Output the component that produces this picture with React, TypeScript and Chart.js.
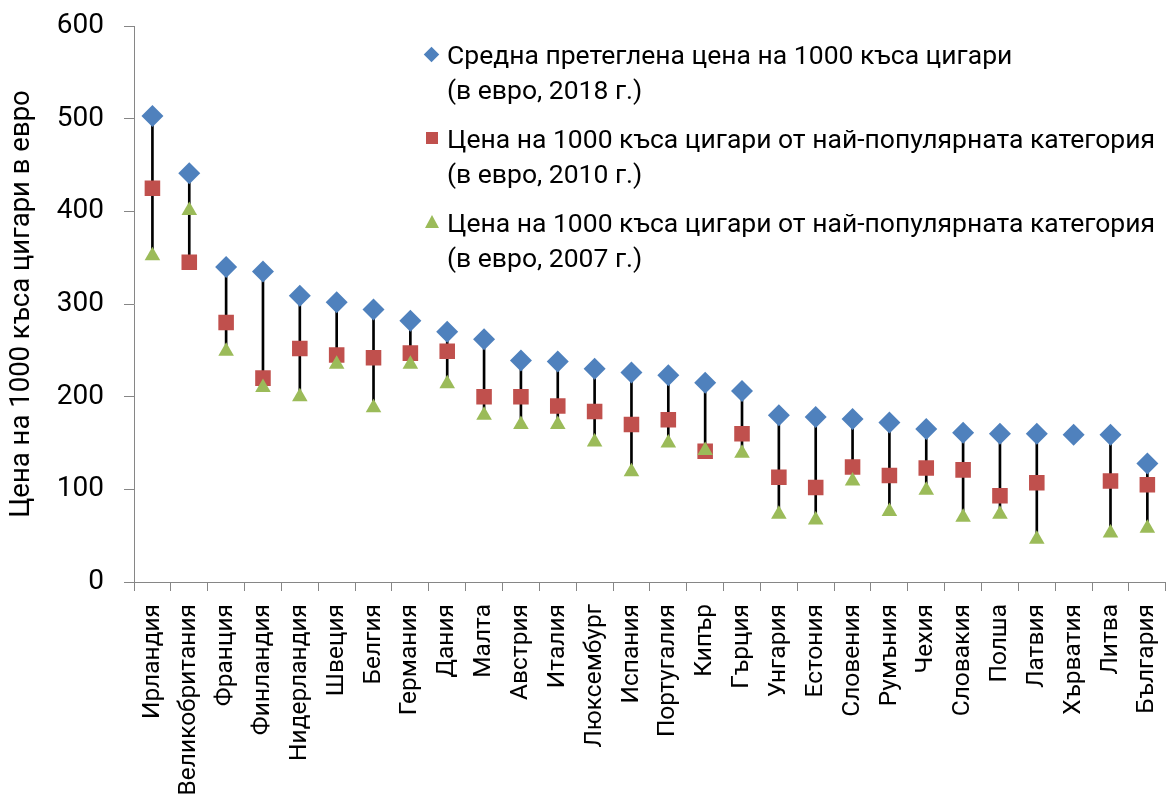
import React, { useEffect, useRef } from 'react';
import { Chart, registerables } from 'chart.js';

Chart.register(...registerables);

const categories = [
  'Ирландия', 'Великобритания', 'Франция', 'Финландия', 'Нидерландия', 'Швеция', 'Белгия',
  'Германия', 'Дания', 'Малта', 'Австрия', 'Италия', 'Люксембург', 'Испания', 'Португалия',
  'Кипър', 'Гърция', 'Унгария', 'Естония', 'Словения', 'Румъния', 'Чехия', 'Словакия',
  'Полша', 'Латвия', 'Хърватия', 'Литва', 'България',
];

const price2018 = [
  503, 441, 340, 335, 309, 302, 294, 282, 270, 262, 239, 238, 230, 226, 223,
  215, 206, 180, 178, 176, 172, 165, 161, 160, 160, 159, 159, 128,
];

const price2010 = [
  425, 345, 280, 220, 252, 245, 242, 247, 249, 200, 200, 190, 184, 170, 175,
  141, 160, 113, 102, 124, 115, 123, 121, 93, 107, null, 109, 105,
];

const price2007 = [
  352, 401, 249, 210, 200, 235, 188, 235, 214, 180, 170, 170, 151, 119, 150,
  142, 139, 73, 67, 109, 76, 99, 70, 73, 46, null, 53, 58,
];

const yTicks = [0, 100, 200, 300, 400, 500, 600];

const yAxisTitle = 'Цена на 1000 къса цигари в евро';

const legendLine1 = [
  'Средна претеглена цена на 1000 къса цигари',
  'Цена на 1000 къса цигари от най-популярната категория',
  'Цена на 1000 къса цигари от най-популярната категория',
];
const legendLine2 = ['(в евро, 2018 г.)', '(в евро, 2010 г.)', '(в евро, 2007 г.)'];

const BLUE = '#4F81BD';
const RED = '#C0504D';
const GREEN = '#9BBB59';
const AXIS = '#868686';
const FONT = 'Roboto, "Noto Sans", sans-serif';

function LegendMarker({ kind }: { kind: number }) {
  if (kind === 0) {
    return (
      <span
        style={{
          position: 'absolute', left: 6, top: 12, width: 11, height: 11,
          background: BLUE, transform: 'rotate(45deg)',
        }}
      />
    );
  }
  if (kind === 1) {
    return (
      <span
        style={{ position: 'absolute', left: 6, top: 11, width: 12, height: 12, background: RED }}
      />
    );
  }
  return (
    <span
      style={{
        position: 'absolute', left: 5, top: 10, width: 0, height: 0,
        borderLeft: '7px solid transparent', borderRight: '7px solid transparent',
        borderBottom: `13px solid ${GREEN}`,
      }}
    />
  );
}

export default function App() {
  const canvasRef = useRef<HTMLCanvasElement>(null);

  useEffect(() => {
    const ranges = categories.map((_, i) => {
      const vals = [price2018[i], price2010[i], price2007[i]].filter(
        (v) => v !== null && v !== undefined
      ) as number[];
      return vals.length > 1 ? [Math.min(...vals), Math.max(...vals)] : null;
    });

    const chart = new Chart(canvasRef.current as HTMLCanvasElement, {
      type: 'bar',
      data: {
        labels: categories,
        datasets: [
          {
            type: 'bar',
            label: 'range',
            data: ranges as any,
            backgroundColor: '#000000',
            borderWidth: 0,
            barThickness: 2,
            order: 10,
          } as any,
          {
            type: 'line',
            label: legendLine1[0],
            data: price2018,
            showLine: false,
            pointStyle: 'rectRot',
            pointRadius: 11,
            pointBackgroundColor: BLUE,
            pointBorderWidth: 0,
            order: 3,
          } as any,
          {
            type: 'line',
            label: legendLine1[1],
            data: price2010,
            showLine: false,
            pointStyle: 'rect',
            pointRadius: 11,
            pointBackgroundColor: RED,
            pointBorderWidth: 0,
            order: 2,
          } as any,
          {
            type: 'line',
            label: legendLine1[2],
            data: price2007,
            showLine: false,
            pointStyle: 'triangle',
            pointRadius: 9,
            pointBackgroundColor: GREEN,
            pointBorderWidth: 0,
            order: 1,
          } as any,
        ],
      },
      options: {
        responsive: false,
        animation: false,
        devicePixelRatio: 1,
        layout: { padding: { top: 26, right: 14, left: 0, bottom: 0 } },
        plugins: {
          legend: { display: false },
          tooltip: { enabled: false },
        },
        scales: {
          x: {
            offset: true,
            grid: {
              offset: true,
              drawOnChartArea: false,
              drawTicks: true,
              tickLength: 9,
              color: AXIS,
              lineWidth: 1,
            },
            border: { color: AXIS, width: 1 },
            ticks: {
              autoSkip: false,
              maxRotation: 90,
              minRotation: 90,
              padding: 13,
              color: '#000000',
              font: { family: FONT, size: 24.5 },
            },
            afterFit: (scale: any) => {
              scale.height = 225;
            },
          },
          y: {
            min: 0,
            max: 600,
            afterBuildTicks: (scale: any) => {
              scale.ticks = yTicks.map((v) => ({ value: v }));
            },
            grid: {
              drawOnChartArea: false,
              drawTicks: true,
              tickLength: 10,
              color: AXIS,
              lineWidth: 1,
            },
            border: { color: AXIS, width: 1 },
            ticks: {
              padding: 20,
              color: '#000000',
              font: { family: FONT, size: 28 },
            },
            title: {
              display: true,
              text: yAxisTitle,
              color: '#000000',
              font: { family: FONT, size: 27.5 },
              padding: { top: 6, bottom: 0 },
            },
            afterFit: (scale: any) => {
              scale.width = 134;
              scale.paddingTop = 0;
              scale.paddingBottom = 0;
            },
          },
        },
      },
    });
    return () => chart.destroy();
  }, []);

  return (
    <div
      style={{
        position: 'fixed', left: 0, top: 0, width: 1171, height: 807,
        overflow: 'hidden', background: '#ffffff',
      }}
    >
      <canvas ref={canvasRef} width={1190} height={807} style={{ display: 'block' }} />
      <div
        style={{
          position: 'absolute', left: 420, top: 37, fontFamily: FONT, fontSize: 26.5,
          lineHeight: '35px', color: '#000000', whiteSpace: 'nowrap',
        }}
      >
        {legendLine1.map((line, i) => (
          <div key={i} style={{ position: 'relative', paddingLeft: 27, marginBottom: 14 }}>
            <LegendMarker kind={i} />
            <div>{line}</div>
            <div>{legendLine2[i]}</div>
          </div>
        ))}
      </div>
    </div>
  );
}
